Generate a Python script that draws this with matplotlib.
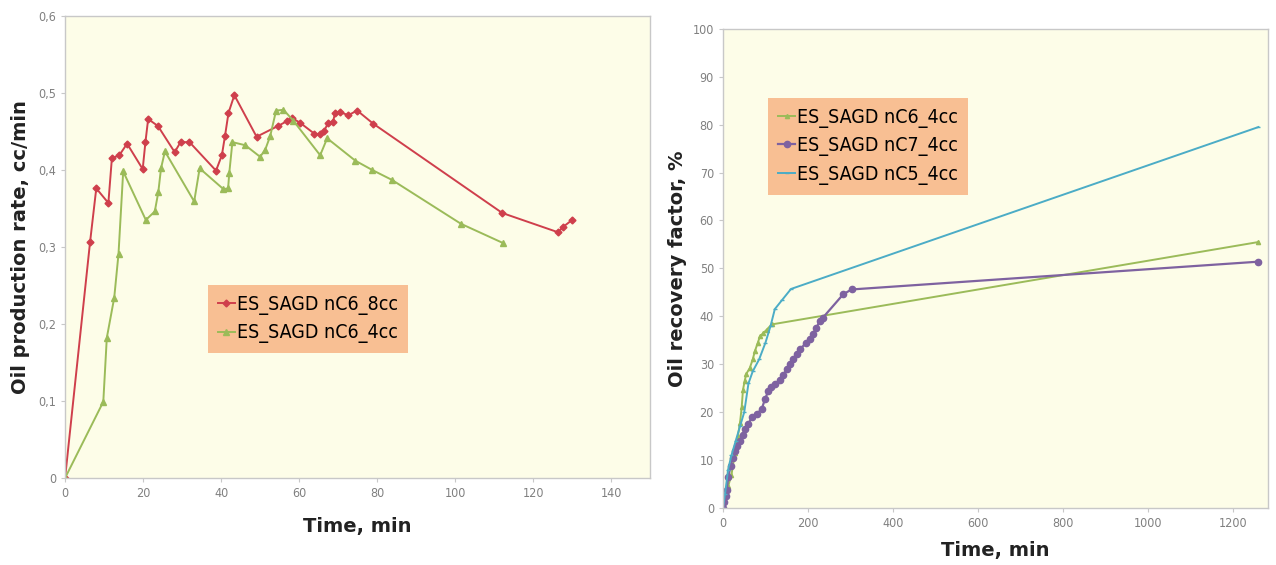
import matplotlib
matplotlib.use('Agg')
from matplotlib import pyplot as plt
from matplotlib import font_manager
from matplotlib.ticker import FuncFormatter

# production rate runs
t_c6_8cc = [0, 6.4, 8.0, 11.1, 12.0, 13.9, 15.9, 19.9, 20.6, 21.3, 23.8, 28.1, 29.6,
            31.9, 38.7, 40.2, 41.0, 41.9, 43.4, 49.1, 54.6, 56.8, 58.3, 60.3, 63.9,
            65.4, 66.5, 67.4, 68.7, 69.2, 70.5, 72.6, 74.9, 79.0, 112.1, 126.4, 127.7, 130.0]
q_c6_8cc = [0, 0.306, 0.376, 0.357, 0.415, 0.419, 0.434, 0.401, 0.436, 0.466, 0.457,
            0.423, 0.436, 0.436, 0.399, 0.419, 0.444, 0.474, 0.497, 0.443, 0.457,
            0.463, 0.467, 0.461, 0.447, 0.446, 0.451, 0.461, 0.462, 0.474, 0.475,
            0.471, 0.477, 0.460, 0.344, 0.319, 0.326, 0.335]

t_c6_4cc = [0, 9.8, 10.7, 12.6, 13.7, 14.9, 20.7, 23.0, 23.9, 24.6, 25.6, 33.1, 34.5,
            40.6, 41.8, 42.1, 42.9, 46.2, 50.0, 51.3, 52.6, 54.1, 56.0, 58.5, 65.4,
            67.2, 74.4, 78.7, 83.8, 101.5, 112.3]
q_c6_4cc = [0, 0.099, 0.182, 0.234, 0.291, 0.398, 0.335, 0.346, 0.371, 0.402, 0.424,
            0.359, 0.402, 0.375, 0.376, 0.396, 0.436, 0.432, 0.417, 0.426, 0.444,
            0.477, 0.478, 0.464, 0.419, 0.441, 0.412, 0.400, 0.387, 0.330, 0.305]

# recovery factor runs
t_rf_c6 = [0, 5, 12, 20, 28, 35, 40, 44, 47, 51, 55, 63, 70, 75, 82, 87, 95, 102.7, 114.5, 1260]
rf_c6 = [0, 2.5, 4.5, 6.9, 11.5, 15.0, 17.7, 21.0, 24.6, 26.5, 28.0, 29.2, 31.0, 32.7,
         34.5, 35.8, 36.5, 37.2, 38.3, 55.5]

t_rf_c7 = [0, 3, 6, 8.6, 12.5, 18, 23, 28, 34, 40, 46, 52, 60, 67.5, 79, 91, 98.8, 106.6,
           114, 122, 134, 142, 149.8, 158, 165, 173, 181, 196, 204, 211.8, 220, 227.5,
           235, 283, 302.7, 1260]
rf_c7 = [0, 1.2, 2.5, 3.7, 6.4, 8.8, 10.5, 11.9, 13.0, 14.0, 15.3, 16.4, 17.5, 18.9, 19.6,
         20.6, 22.7, 24.4, 25.2, 25.8, 26.8, 27.8, 28.9, 30.0, 31.0, 32.2, 33.1, 34.5,
         35.3, 36.2, 37.6, 39.0, 39.7, 44.6, 45.6, 51.4]

t_rf_c5 = [0, 5, 12, 20, 30, 40, 50, 60, 70, 85, 100, 112, 122, 140, 160, 1260]
rf_c5 = [0, 3, 8, 11, 14, 17, 20, 26, 28.5, 31, 34.5, 38, 41.5, 43.5, 45.7, 79.5]

RED = '#CF3F4C'
GREEN = '#9BBB59'
PURPLE = '#7E62A0'
CYAN = '#4BACC6'
FACE = '#FDFDE8'
LEGEND_FACE = '#F8BF93'
TICK = '#808080'
EDGE = '#C8C8C8'

# narrow face for legend and tick text, if one is around
narrow = font_manager.FontProperties(family='DejaVu Sans', stretch='condensed')
narrow_path = font_manager.findfont(narrow)
if 'Condensed' in narrow_path:
    legend_font = font_manager.FontProperties(fname=narrow_path, size=14)
    tick_font = font_manager.FontProperties(fname=narrow_path, size=9)
else:
    legend_font = font_manager.FontProperties(family='DejaVu Sans', size=12.5)
    tick_font = font_manager.FontProperties(family='DejaVu Sans', size=8.5)

fig = plt.figure(figsize=(12.76, 5.65), dpi=100)
ax1 = fig.add_axes([0.051, 0.154, 0.4585, 0.818])
ax2 = fig.add_axes([0.5666, 0.101, 0.427, 0.848])


def style_axes(ax):
    ax.set_facecolor(FACE)
    for side in ax.spines.values():
        side.set_color(EDGE)
        side.set_linewidth(1)
    ax.tick_params(colors=TICK, length=3, width=0.8, color=EDGE)
    for lbl in ax.get_xticklabels() + ax.get_yticklabels():
        lbl.set_fontproperties(tick_font)


ax1.plot(t_c6_8cc, q_c6_8cc, color=RED, lw=1.4, marker='D', ms=3.5,
         label='ES_SAGD nC6_8cc')
ax1.plot(t_c6_4cc, q_c6_4cc, color=GREEN, lw=1.4, marker='^', ms=4,
         label='ES_SAGD nC6_4cc')
ax1.set_xlim(0, 150)
ax1.set_ylim(0, 0.6)
ax1.set_xticks(range(0, 141, 20))
ax1.set_yticks([0, 0.1, 0.2, 0.3, 0.4, 0.5, 0.6])
ax1.yaxis.set_major_formatter(FuncFormatter(lambda v, p: '0' if v == 0 else f'{v:.1f}'.replace('.', ',')))
style_axes(ax1)
ax1.set_xlabel('Time, min', fontsize=14, fontweight='bold', color='#222222', labelpad=12)
ax1.set_ylabel('Oil production rate, cc/min', fontsize=14, fontweight='bold',
               color='#222222', labelpad=6)
leg1 = ax1.legend(loc='lower left', bbox_to_anchor=(0.244, 0.27), prop=legend_font,
                  frameon=True, fancybox=False, handlelength=0.9, handletextpad=0.1,
                  borderpad=0.5, labelspacing=0.45, borderaxespad=0)
leg1.get_frame().set_facecolor(LEGEND_FACE)
leg1.get_frame().set_edgecolor('none')
leg1.get_frame().set_alpha(1)

ax2.plot(t_rf_c6, rf_c6, color=GREEN, lw=1.4, marker='^', ms=3,
         label='ES_SAGD nC6_4cc')
ax2.plot(t_rf_c7, rf_c7, color=PURPLE, lw=1.6, marker='o', ms=4.5,
         label='ES_SAGD nC7_4cc')
ax2.plot(t_rf_c5, rf_c5, color=CYAN, lw=1.4, marker='_', ms=3,
         label='ES_SAGD nC5_4cc')
ax2.set_xlim(0, 1282)
ax2.set_ylim(0, 100)
ax2.set_xticks(range(0, 1201, 200))
ax2.set_yticks(range(0, 101, 10))
style_axes(ax2)
ax2.set_xlabel('Time, min', fontsize=14, fontweight='bold', color='#222222', labelpad=8)
ax2.set_ylabel('Oil recovery factor, %', fontsize=14, fontweight='bold',
               color='#222222', labelpad=4)
leg2 = ax2.legend(loc='upper left', bbox_to_anchor=(0.083, 0.856), prop=legend_font,
                  frameon=True, fancybox=False, handlelength=0.9, handletextpad=0.1,
                  borderpad=0.5, labelspacing=0.45, borderaxespad=0)
leg2.get_frame().set_facecolor(LEGEND_FACE)
leg2.get_frame().set_edgecolor('none')
leg2.get_frame().set_alpha(1)

fig.savefig('out.png', dpi=100)
